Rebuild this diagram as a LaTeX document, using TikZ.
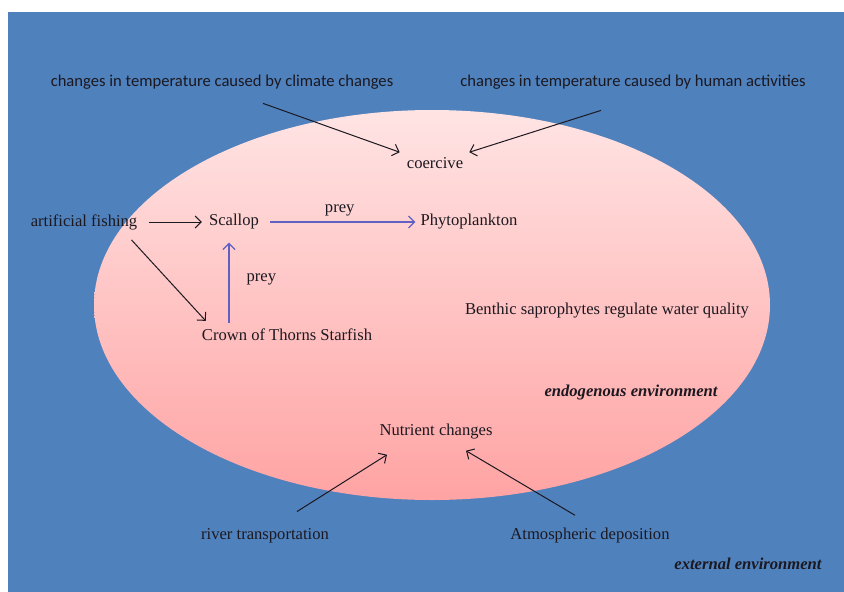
\documentclass[tikz,border=0pt]{standalone}
\usepackage{fontspec}
\setmainfont{Liberation Serif}
\newfontfamily\calib{Carlito}
\usepackage{tikz}
\usetikzlibrary{arrows.meta,positioning}
\definecolor{seablue}{RGB}{79,129,189}
\definecolor{pinktop}{RGB}{255,228,228}
\definecolor{pinkbot}{RGB}{255,163,163}
\definecolor{preyblue}{RGB}{96,96,196}
\definecolor{inktext}{RGB}{28,24,32}
\tikzset{>={Straight Barb[length=6pt,width=12pt]},
	every node/.style={text=inktext,inner sep=2pt,font=\fontsize{16.6}{20}\selectfont},
	sanslabel/.style={font=\fontsize{16.6}{20}\selectfont\calib},
	envlabel/.style={font=\fontsize{16.6}{20}\selectfont\bfseries\itshape},
	effect/.style={->,line width=1pt,draw=inktext},
	preyarrow/.style={->,line width=1.2pt,draw=preyblue}}

\begin{document}
\begin{tikzpicture}[x=1pt,y=-1pt]
	\useasboundingbox (0,0) rectangle (844,592);
	\fill[white] (0,0) rectangle (844,592);
	\fill[seablue] (8,12) rectangle (844,592);
	\shade[top color=pinktop,bottom color=pinkbot] (432,305) ellipse [x radius=338,y radius=195];
	% outside causes
	\node[sanslabel] (clim) at (222,82) {changes in temperature caused by climate changes};
	\node[sanslabel] (human) at (633,82) {changes in temperature caused by human activities};
	\node (coercive) at (435,163) {coercive};
	% food chain
	\node (fishing) at (84,222) {artificial fishing};
	\node (scallop) at (234,222) {Scallop};
	\node (phyto) at (469,222) {Phytoplankton};
	\node (starfish) at (287,335) {Crown of Thorns Starfish};
	\node (benthic) at (607,311) {Benthic saprophytes regulate water quality};
	\node[envlabel] (endo) at (631,393) {endogenous environment};
	\node (nutrient) at (436,432) {Nutrient changes};
	\node (river) at (265,536) {river transportation};
	\node (atmos) at (590,536) {Atmospheric deposition};
	\node[envlabel] (extern) at (748,564) {external environment};
	\draw[effect] ([xshift=41pt,yshift=-12pt]clim.south) -- ([xshift=-5pt,yshift=3pt]coercive.north west);
	\draw[effect] ([xshift=-32pt,yshift=-19pt]human.south) -- ([xshift=4pt,yshift=3pt]coercive.north east);
	\draw[effect,shorten <=10pt,shorten >=5pt] (fishing) -- (scallop);
	\draw[preyarrow,shorten <=9pt,shorten >=3pt] (scallop) -- (phyto)
		node[midway,above=3pt] (preyA) {prey};
	\draw[effect] ([xshift=-8pt,yshift=-8pt]fishing.south east) -- ([xshift=6pt,yshift=6pt]starfish.north west);
	\draw[preyarrow,shorten <=4pt,shorten >=11pt] ([xshift=-5pt]starfish.north -| scallop.south) -- ([xshift=-5pt]scallop.south)
		node[midway,right=15pt] (preyB) {prey};
	\draw[effect] ([xshift=32pt,yshift=15pt]river.north) -- ([xshift=-49pt,yshift=-13pt]nutrient.south);
	\draw[effect] ([xshift=-15pt,yshift=11pt]atmos.north) -- ([xshift=30pt,yshift=-9pt]nutrient.south);
\end{tikzpicture}
\end{document}
